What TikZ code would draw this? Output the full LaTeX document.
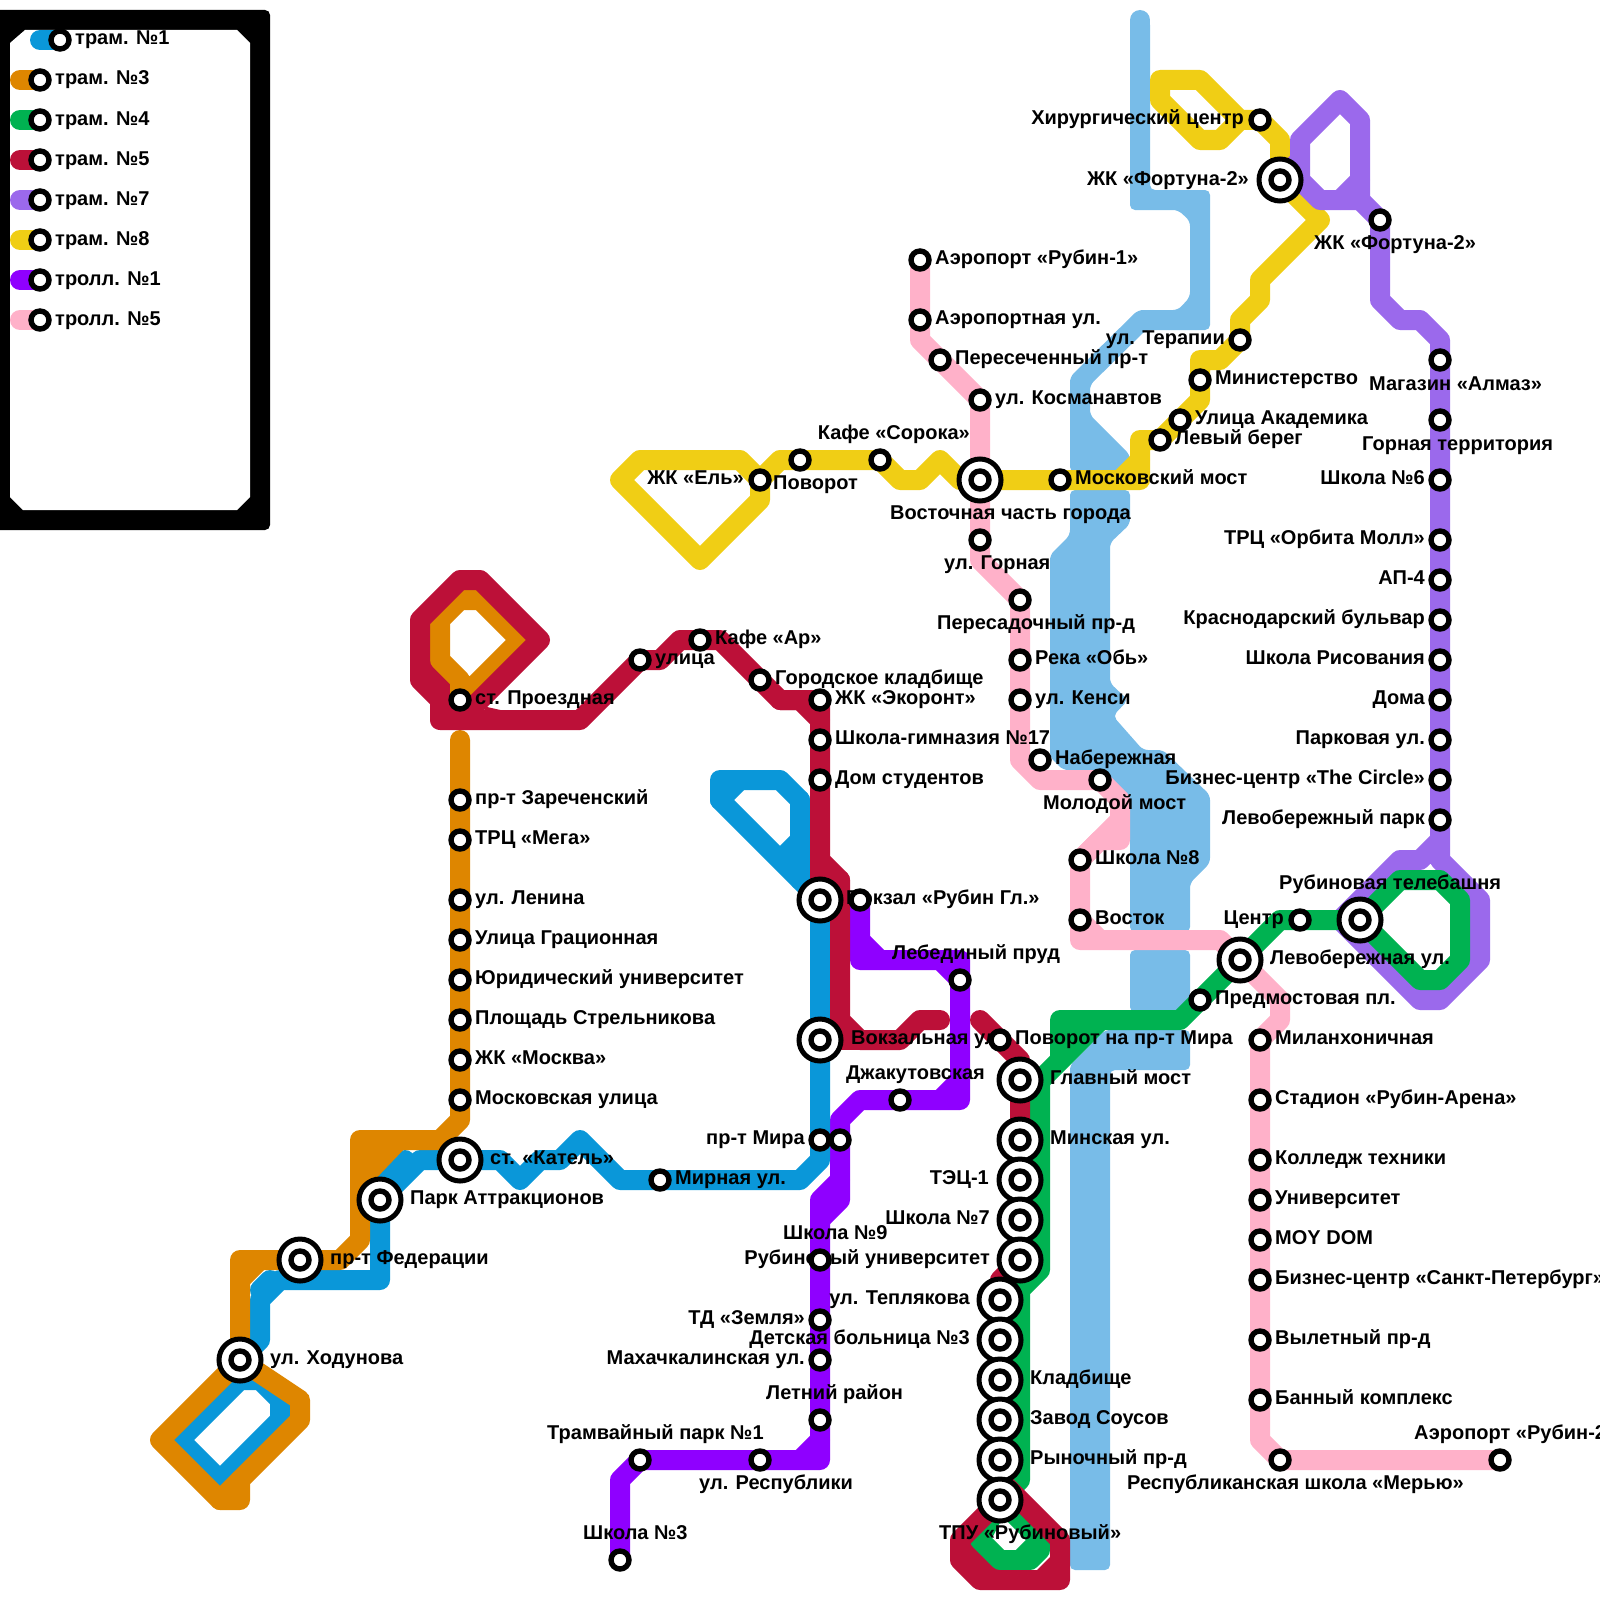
\documentclass[tikz,border=0pt]{standalone}
\usepackage{fontspec}
\setmainfont{Liberation Sans}
\pgfdeclarelayer{bg}
\pgfsetlayers{bg,main}
\definecolor{cblue}{HTML}{0A97D9}
\definecolor{corange}{HTML}{DE8600}
\definecolor{cgreen}{HTML}{00B251}
\definecolor{ccrim}{HTML}{BC1038}
\definecolor{cpurp}{HTML}{9B69EC}
\definecolor{cyell}{HTML}{F0CE15}
\definecolor{cviol}{HTML}{8F00FF}
\definecolor{cpink}{HTML}{FFB1C9}
\definecolor{criver}{HTML}{78BCE8}
\tikzset{
 ln/.style={line width=20pt,line cap=round,line join=round},
 stn/.style={circle,draw=black,fill=white,line width=5.4pt,minimum size=18pt,inner sep=0pt},
 ring/.style={circle,draw=black,fill=white,line width=5pt,minimum size=42pt,inner sep=0pt},
 lbl/.style={inner sep=0pt,font=\fontsize{20}{21}\selectfont\bfseries,text=black},
 riv/.style={fill=criver,rounded corners=5pt},
}
\newcount\lc
\newcommand\St[3]{\node[stn] (#1) at (#2,#3) {};}
\newcommand\Ic[3]{\node[ring] (#1) at (#2,#3) {};\node[stn] (#1i) at (#2,#3) {};}
\newcommand\LW[3]{\global\advance\lc by 1 \node[lbl,anchor=base west] (lab\the\lc) at (#1,#2) {#3};}
\newcommand\LE[3]{\global\advance\lc by 1 \node[lbl,anchor=base east] (lab\the\lc) at (#1,#2) {#3};}
\begin{document}
\begin{tikzpicture}[x=1pt,y=-1pt]
\useasboundingbox (0,0) rectangle (1600,1600);
% labels (under the stations)
\LW{75}{45}{трам. №1}
\LW{55}{85}{трам. №3}
\LW{55}{125}{трам. №4}
\LW{55}{165}{трам. №5}
\LW{55}{205}{трам. №7}
\LW{55}{245}{трам. №8}
\LW{55}{285}{тролл. №1}
\LW{55}{325}{тролл. №5}
\LW{935}{264.5}{Аэропорт «Рубин-1»}
\LW{935}{324.5}{Аэропортная ул.}
\LW{955}{364.5}{Пересеченный пр-т}
\LW{995}{404.5}{ул. Косманавтов}
\LE{970}{439.5}{Кафе «Сорока»}
\LE{744}{484.5}{ЖК «Ель»}
\LW{773}{489}{Поворот}
\LW{1075}{484.5}{Московский мост}
\LW{890}{519.5}{Восточная часть города}
\LW{944}{569.5}{ул. Горная}
\LW{937}{629.5}{Пересадочный пр-д}
\LW{1035}{664.5}{Река «Обь»}
\LW{1035}{704.5}{ул. Кенси}
\LW{1055}{764.5}{Набережная}
\LW{1043}{809.5}{Молодой мост}
\LW{1095}{864.5}{Школа №8}
\LW{1095}{924.5}{Восток}
\LW{775}{684.5}{Городское кладбище}
\LW{715}{644.5}{Кафе «Ар»}
\LW{655}{664.5}{улица}
\LW{475}{704.5}{ст. Проездная}
\LW{835}{704.5}{ЖК «Экоронт»}
\LW{835}{744.5}{Школа-гимназия №17}
\LW{835}{784.5}{Дом студентов}
\LW{475}{804.5}{пр-т Зареченский}
\LW{475}{844.5}{ТРЦ «Мега»}
\LW{475}{904.5}{ул. Ленина}
\LW{475}{944.5}{Улица Грационная}
\LW{475}{984.5}{Юридический университет}
\LW{475}{1024.5}{Площадь Стрельникова}
\LW{475}{1064.5}{ЖК «Москва»}
\LW{475}{1104.5}{Московская улица}
\LW{490}{1164.5}{ст. «Катель»}
\LW{410}{1204.5}{Парк Аттракционов}
\LW{330}{1264.5}{пр-т Федерации}
\LW{270}{1364.5}{ул. Ходунова}
\LW{675}{1184.5}{Мирная ул.}
\LE{805}{1144.5}{пр-т Мира}
\LW{846}{904.5}{Вокзал «Рубин Гл.»}
\LW{851}{1044.5}{Вокзальная ул.}
\LW{892}{959.5}{Лебединый пруд}
\LW{846}{1079.5}{Джакутовская}
\LW{1015}{1044.5}{Поворот на пр-т Мира}
\LW{1050}{1084.5}{Главный мост}
\LW{1050}{1144.5}{Минская ул.}
\LE{989}{1184.5}{ТЭЦ-1}
\LE{990}{1224.5}{Школа №7}
\LE{990}{1264.5}{Рубиновый университет}
\LE{970}{1304.5}{ул. Теплякова}
\LE{970}{1344.5}{Детская больница №3}
\LW{1030}{1384.5}{Кладбище}
\LW{1030}{1424.5}{Завод Соусов}
\LW{1030}{1464.5}{Рыночный пр-д}
\LW{939}{1539.5}{ТПУ «Рубиновый»}
\LW{783}{1239.5}{Школа №9}
\LE{805}{1324.5}{ТД «Земля»}
\LE{805}{1364.5}{Махачкалинская ул.}
\LW{766}{1399.5}{Летний район}
\LW{547}{1439.5}{Трамвайный парк №1}
\LW{699}{1489.5}{ул. Республики}
\LW{583}{1539.5}{Школа №3}
\LW{1369}{390}{Магазин «Алмаз»}
\LW{1362}{450}{Горная территория}
\LE{1425}{484.5}{Школа №6}
\LE{1425}{544.5}{ТРЦ «Орбита Молл»}
\LE{1425}{584.5}{АП-4}
\LE{1425}{624.5}{Краснодарский бульвар}
\LE{1425}{664.5}{Школа Рисования}
\LE{1425}{704.5}{Дома}
\LE{1425}{744.5}{Парковая ул.}
\LE{1425}{784.5}{Бизнес-центр «The Circle»}
\LE{1425}{824.5}{Левобережный парк}
\LW{1314}{249.5}{ЖК «Фортуна-2»}
\LE{1249}{185}{ЖК «Фортуна-2»}
\LE{1244}{124.5}{Хирургический центр}
\LE{1225}{344.5}{ул. Терапии}
\LW{1215}{384.5}{Министерство}
\LW{1195}{424.5}{Улица Академика}
\LW{1175}{444.5}{Левый берег}
\LW{1279}{889.5}{Рубиновая телебашня}
\LE{1284}{924.5}{Центр}
\LW{1270}{964.5}{Левобережная ул.}
\LW{1215}{1004.5}{Предмостовая пл.}
\LW{1275}{1044.5}{Миланхоничная}
\LW{1275}{1104.5}{Стадион «Рубин-Арена»}
\LW{1275}{1164.5}{Колледж техники}
\LW{1275}{1204.5}{Университет}
\LW{1275}{1244.5}{MOY DOM}
\LW{1275}{1284.5}{Бизнес-центр «Санкт-Петербург»}
\LW{1275}{1344.5}{Вылетный пр-д}
\LW{1275}{1404.5}{Банный комплекс}
\LW{1127}{1489.5}{Республиканская школа «Мерью»}
\LW{1414}{1439.5}{Аэропорт «Рубин-2»}
% legend stations
\St{k1}{60}{40}\St{k2}{40}{80}\St{k3}{40}{120}\St{k4}{40}{160}\St{k5}{40}{200}\St{k6}{40}{240}\St{k7}{40}{280}\St{k8}{40}{320}
% pink
\St{p1}{920}{260}\St{p2}{920}{320}\St{p3}{940}{360}\St{p4}{980}{400}\St{p5}{980}{540}\St{p6}{1020}{600}\St{p7}{1020}{660}\St{p8}{1020}{700}\St{p9}{1040}{760}\St{p10}{1100}{780}\St{p11}{1080}{860}\St{p12}{1080}{920}
\St{p13}{1260}{1040}\St{p14}{1260}{1100}\St{p15}{1260}{1160}\St{p16}{1260}{1200}\St{p17}{1260}{1240}\St{p18}{1260}{1280}\St{p19}{1260}{1340}\St{p20}{1260}{1400}\St{p21}{1280}{1460}\St{p22}{1500}{1460}
% yellow
\St{y1}{800}{460}\St{y2}{880}{460}\St{y3}{760}{480}\St{y4}{1060}{480}\St{y5}{1160}{440}\St{y6}{1180}{420}\St{y7}{1200}{380}\St{y8}{1240}{340}\St{y9}{1260}{120}
% crimson
\St{c1}{460}{700}\St{c2}{640}{660}\St{c3}{700}{640}\St{c4}{760}{680}\St{c5}{820}{700}\St{c6}{820}{740}\St{c7}{820}{780}\St{c8}{1000}{1040}
% orange
\St{o1}{460}{800}\St{o2}{460}{840}\St{o3}{460}{900}\St{o4}{460}{940}\St{o5}{460}{980}\St{o6}{460}{1020}\St{o7}{460}{1060}\St{o8}{460}{1100}
% blue
\St{b1}{660}{1180}\St{b2}{820}{1140}
% violet
\St{v1}{860}{900}\St{v2}{960}{980}\St{v3}{900}{1100}\St{v4}{840}{1140}\St{v5}{820}{1260}\St{v6}{820}{1320}\St{v7}{820}{1360}\St{v8}{820}{1420}\St{v9}{760}{1460}\St{v10}{640}{1460}\St{v11}{620}{1560}
% purple
\St{u1}{1380}{220}\St{u2}{1440}{360}\St{u3}{1440}{420}\St{u4}{1440}{480}\St{u5}{1440}{540}\St{u6}{1440}{580}\St{u7}{1440}{620}\St{u8}{1440}{660}\St{u9}{1440}{700}\St{u10}{1440}{740}\St{u11}{1440}{780}\St{u12}{1440}{820}
% green
\St{g1}{1300}{920}\St{g2}{1200}{1000}
% interchanges
\Ic{i1}{1280}{180}\Ic{i2}{980}{480}\Ic{i3}{820}{900}\Ic{i4}{820}{1040}\Ic{i5}{460}{1160}\Ic{i6}{380}{1200}\Ic{i7}{300}{1260}\Ic{i8}{240}{1360}
\Ic{i9}{1360}{920}\Ic{i10}{1240}{960}
\Ic{m1}{1020}{1080}\Ic{m2}{1020}{1140}\Ic{m3}{1020}{1180}\Ic{m4}{1020}{1220}\Ic{m5}{1020}{1260}
\Ic{m6}{1000}{1300}\Ic{m7}{1000}{1340}\Ic{m8}{1000}{1380}\Ic{m9}{1000}{1420}\Ic{m10}{1000}{1460}\Ic{m11}{1000}{1500}
\begin{pgfonlayer}{bg}
% legend frame
\fill[black,rounded corners=5pt] (-20,10) -- (270,10) -- (270,530) -- (-20,530) -- cycle;
\fill[white] (10,43) -- (25,30) -- (237,30) -- (250,43) -- (250,497) -- (237,510) -- (23,510) -- (10,497) -- cycle;
\draw[ln,cblue] (40,40) -- (k1.center);
\draw[ln,corange] (20,80) -- (k2.center);
\draw[ln,cgreen] (20,120) -- (k3.center);
\draw[ln,ccrim] (20,160) -- (k4.center);
\draw[ln,cpurp] (20,200) -- (k5.center);
\draw[ln,cyell] (20,240) -- (k6.center);
\draw[ln,cviol] (20,280) -- (k7.center);
\draw[ln,cpink] (20,320) -- (k8.center);
% river
\draw[ln,criver] (1140,20) -- (1140,100);
\fill[riv] (1130,20) -- (1150,20) -- (1150,190) -- (1210,190) -- (1210,330) -- (1146,330) -- (1090,385) -- (1090,415) -- (1130,455) -- (1130,472) -- (1070,472) -- (1070,377) -- (1138,310) -- (1178,310) -- (1190,297) -- (1190,221) -- (1178,210) -- (1130,210) -- cycle;
\fill[riv] (1070,490) -- (1130,490) -- (1130,524) -- (1110,543) -- (1110,683) -- (1128,700) -- (1113,716) -- (1143,750) -- (1163,750) -- (1210,795) -- (1210,863) -- (1190,883) -- (1190,932) -- (1130,932) -- (1130,800) -- (1100,770) -- (1063,770) -- (1050,757) -- (1050,555) -- (1070,535) -- cycle;
\fill[riv] (1130,950) -- (1190,950) -- (1190,997) -- (1177,1012) -- (1130,1012) -- cycle;
\fill[riv] (1105,1030) -- (1190,1030) -- (1190,1070) -- (1110,1070) -- (1110,1570) -- (1070,1570) -- (1070,1065) -- cycle;
% pink
\draw[ln,cpink] (p1.center) -- (920,340) -- (p4.center) -- (p5.center) -- (980,560) -- (p6.center) -- (1020,760) -- (1040,780) -- (p10.center) -- (1120,800) -- (1120,840) -- (1100,840) -- (p11.center) -- (p12.center) -- (1080,940) -- (1220,940) -- (1280,1000) -- (1280,1020) -- (p13.center) -- (1260,1440) -- (p21.center) -- (p22.center);
\draw[ln,cpink] (p11.center) -- (1120,820);
\draw[ln,cpink] (p12.center) -- (1100,940);
% violet
\draw[ln,cviol] (v1.center) -- (860,960) -- (940,960) -- (v2.center);
\draw[ln,cviol] (860,940) -- (880,960);
\draw[ln,cviol] (940,960) -- (960,960) -- (960,1100) -- (860,1100) -- (840,1120) -- (840,1180) -- (820,1200) -- (820,1460) -- (v10.center) -- (620,1480) -- (v11.center);
\draw[ln,cviol] (960,1080) -- (940,1100);
\draw[ln,cviol] (840,1180) -- (840,1200) -- (820,1220);
\draw[ln,cviol] (820,1440) -- (800,1460);
% blue
\draw[ln,cblue] (i3.center) -- (720,800) -- (720,780) -- (780,780) -- (800,800) -- (800,840) -- (780,860);
\draw[ln,cblue] (800,800) -- (800,880);
\draw[ln,cblue] (720,800) -- (740,780);
\draw[ln,cblue] (i3.center) -- (b2.center) -- (820,1160) -- (800,1180) -- (620,1180) -- (580,1140) -- (560,1160) -- (540,1160) -- (520,1180) -- (500,1160) -- (i5.center) -- (420,1160) -- (i6.center) -- (380,1280) -- (280,1280) -- (260,1300) -- (260,1340) -- (i8.center) -- (240,1380) -- (180,1440) -- (220,1480) -- (280,1420) -- (280,1400) -- (260,1380) -- (240,1380);
\draw[ln,cblue] (405,1160) -- (380,1185);
\draw[ln,cblue] (270,1280) -- (260,1290);
% crimson under the orange
\fill[ccrim] (428,655) -- (455,682) -- (455,715) -- (440,715) -- (428,690) -- cycle;
% orange
\draw[ln,corange] (460,740) -- (460,1120) -- (440,1140) -- (360,1140) -- (360,1240) -- (340,1260) -- (240,1260) -- (i8.center) -- (160,1440) -- (220,1500) -- (240,1500) -- (240,1480) -- (300,1420) -- (300,1400) -- (i8.center);
\draw[ln,corange] (240,1480) -- (220,1500);
\fill[corange] (365,1145) -- (408,1145) -- (365,1190) -- cycle;
\fill[corange] (248,1268) -- (266,1268) -- (248,1286) -- cycle;
\draw[ln,corange] (c1.center) -- (460,680) -- (440,660) -- (440,620) -- (460,600) -- (480,600) -- (520,640) -- (480,680) -- (c1.center);
% yellow
\draw[ln,cyell] (y9.center) -- (1280,140) -- (i1.center) -- (1320,220) -- (1260,280) -- (1260,300) -- (1240,320) -- (y8.center) -- (1220,360) -- (1200,360) -- (1200,400) -- (1160,440) -- (1140,440) -- (1140,480) -- (i2.center) -- (960,480) -- (940,460) -- (920,480) -- (900,480) -- (y2.center) -- (780,460) -- (y3.center) -- (760,500) -- (700,560) -- (620,480) -- (640,460) -- (740,460) -- (y3.center);
\draw[ln,cyell] (y9.center) -- (1240,120) -- (1200,80) -- (1160,80) -- (1160,100) -- (1200,140) -- (1220,140) -- (1240,120);
\draw[ln,cyell] (1140,460) -- (1120,480);
% purple
\draw[ln,cpurp] (i1.center) -- (1300,160) -- (1300,140) -- (1340,100) -- (1360,120) -- (1360,200) -- (1320,200) -- (1300,180) -- (1300,140);
\draw[ln,cpurp] (1360,180) -- (1340,200);
\draw[ln,cpurp] (1360,200) -- (u1.center) -- (1380,300) -- (1400,320) -- (1420,320) -- (1440,340) -- (u12.center) -- (1440,840) -- (1420,860) -- (1400,860) -- (1340,920) -- (1420,1000) -- (1440,1000) -- (1480,960) -- (1480,900) -- (1440,860) -- (1440,840);
% crimson fill under green
\fill[ccrim] (955,1545) -- (978,1540) -- (1010,1572) -- (975,1585) -- (955,1565) -- cycle;
\fill[ccrim] (1035,1572) -- (1052,1555) -- (1055,1575) -- cycle;
% green
\draw[ln,cgreen] (i9.center) -- (1400,880) -- (1440,880) -- (1460,900) -- (1460,960) -- (1440,980) -- (1420,980) -- (i9.center) -- (g1.center) -- (1280,920) -- (i10.center) -- (g2.center) -- (1180,1020) -- (1060,1020) -- (1060,1060) -- (1040,1080) -- (1040,1270) -- (1020,1290) -- (1020,1480) -- (m11.center) -- (1040,1540) -- (1040,1550) -- (1030,1560) -- (1000,1560) -- (980,1540) -- (m11.center);
\draw[ln,cgreen] (1040,1540) -- (1020,1560);
\fill[cgreen] (1060,1020) -- (1105,1030) -- (1050,1085) -- (1050,1030) -- cycle;
% crimson
\draw[ln,ccrim] (c1.center) -- (440,720) -- (440,700) -- (420,680) -- (420,620) -- (460,580) -- (480,580) -- (540,640) -- (460,720) -- (440,720) -- (580,720) -- (c2.center) -- (660,660) -- (680,640) -- (720,640) -- (780,700) -- (c5.center) -- (c6.center) -- (c7.center) -- (820,860) -- (840,880) -- (840,1020) -- (860,1040) -- (900,1040) -- (920,1020) -- (940,1020);
\draw[ln,ccrim] (820,860) -- (i3.center) -- (840,880);
\draw[ln,ccrim] (i4.center) -- (860,1040);
\draw[ln,ccrim] (780,700) -- (800,700) -- (820,720);
\fill[ccrim] (478,705) -- (505,711) -- (490,713) -- cycle;
\draw[ln,ccrim] (980,1020) -- (c8.center) -- (1020,1060) -- (m5.center) -- (1000,1280) -- (m11.center) -- (960,1540) -- (960,1560) -- (980,1580) -- (1060,1580) -- (1060,1540) -- (1000,1480);
\end{pgfonlayer}
\end{tikzpicture}
\end{document}
